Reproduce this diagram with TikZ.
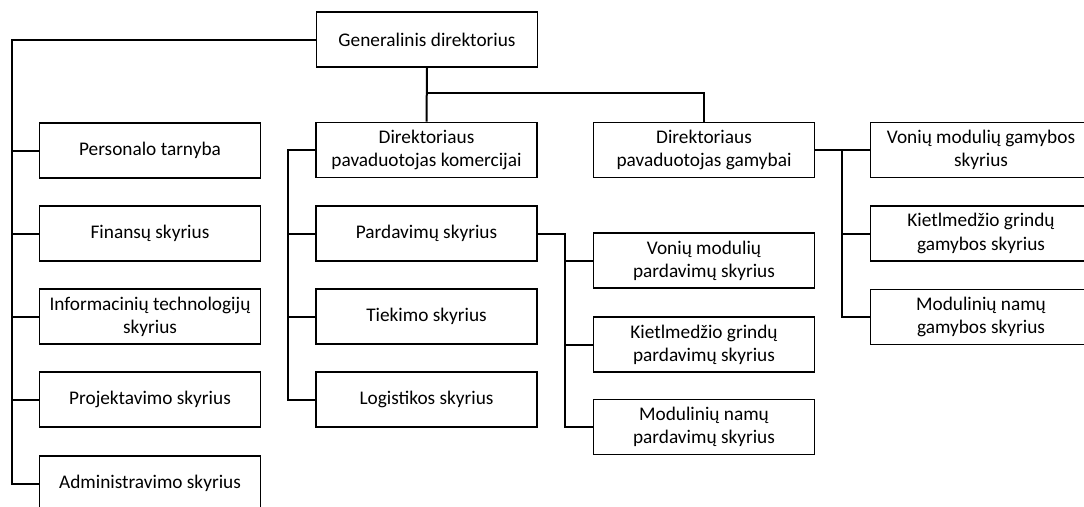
\documentclass[tikz,border=0pt]{standalone}
\usepackage{fontspec}
\setmainfont{Carlito}
\begin{document}
\begin{tikzpicture}[x=1pt,y=-1pt,
  box/.style={draw=black,line width=1.6pt,fill=white,minimum width=221pt,minimum height=55pt,
    align=center,inner sep=2pt,font=\fontsize{19.3}{23.2}\selectfont},
  conn/.style={draw=black,line width=2pt}]
\useasboundingbox (0,0) rectangle (1084,506);
\clip (0,0) rectangle (1084,506);
\fill[white] (0,0) rectangle (1084,506);
% top
\node[box] (gd) at (427,39.5) {Generalinis direktorius};
% left column
\node[box] (pers) at (150,150.5) {Personalo tarnyba};
\node[box] (fin) at (150,233.5) {Finansų skyrius};
\node[box] (it) at (150,316.5) {Informacinių technologijų\\skyrius};
\node[box] (proj) at (150,399.5) {Projektavimo skyrius};
\node[box] (adm) at (150,483.5) {Administravimo skyrius};
% middle column
\node[box] (dk) at (426.5,150) {Direktoriaus\\pavaduotojas komercijai};
\node[box] (pard) at (426.5,233.5) {Pardavimų skyrius};
\node[box] (tiek) at (426.5,316.5) {Tiekimo skyrius};
\node[box] (log) at (426.5,399.5) {Logistikos skyrius};
% third column
\node[box] (dg) at (704,150) {Direktoriaus\\pavaduotojas gamybai};
\node[box] (vpard) at (704,260.5) {Vonių modulių\\pardavimų skyrius};
\node[box] (kpard) at (704,344.5) {Kietlmedžio grindų\\pardavimų skyrius};
\node[box] (mpard) at (704,427) {Modulinių namų\\pardavimų skyrius};
% fourth column
\node[box] (vgam) at (981,150) {Vonių modulių gamybos\\skyrius};
\node[box] (kgam) at (981,233.5) {Kietlmedžio grindų\\gamybos skyrius};
\node[box] (mgam) at (981,317) {Modulinių namų\\gamybos skyrius};
% bus coordinates
\coordinate (lbus) at (12,0);
\coordinate (hbus) at (0,93);
\coordinate (mbus) at (288,0);
\coordinate (pbus) at (565,0);
\coordinate (gbus) at (842,0);
% connectors
\draw[conn] (gd.west) -- (gd.west -| lbus) |- (adm.west);
\foreach \n in {pers,fin,it,proj} \draw[conn] (\n.west) -- (\n.west -| lbus);
\draw[conn] (gd.south) -- (dk.north);
\draw[conn] (gd.south |- hbus) -| (dg.north);
\draw[conn] (dk.west) -- (dk.west -| mbus) |- (log.west);
\foreach \n in {pard,tiek} \draw[conn] (\n.west) -- (\n.west -| mbus);
\draw[conn] (pard.east) -- (pard.east -| pbus) |- (mpard.west);
\foreach \n in {vpard,kpard} \draw[conn] (\n.west) -- (\n.west -| pbus);
\draw[conn] (dg.east) -- (dg.east -| gbus) |- (mgam.west);
\foreach \n in {vgam,kgam} \draw[conn] (\n.west) -- (\n.west -| gbus);
\end{tikzpicture}
\end{document}
